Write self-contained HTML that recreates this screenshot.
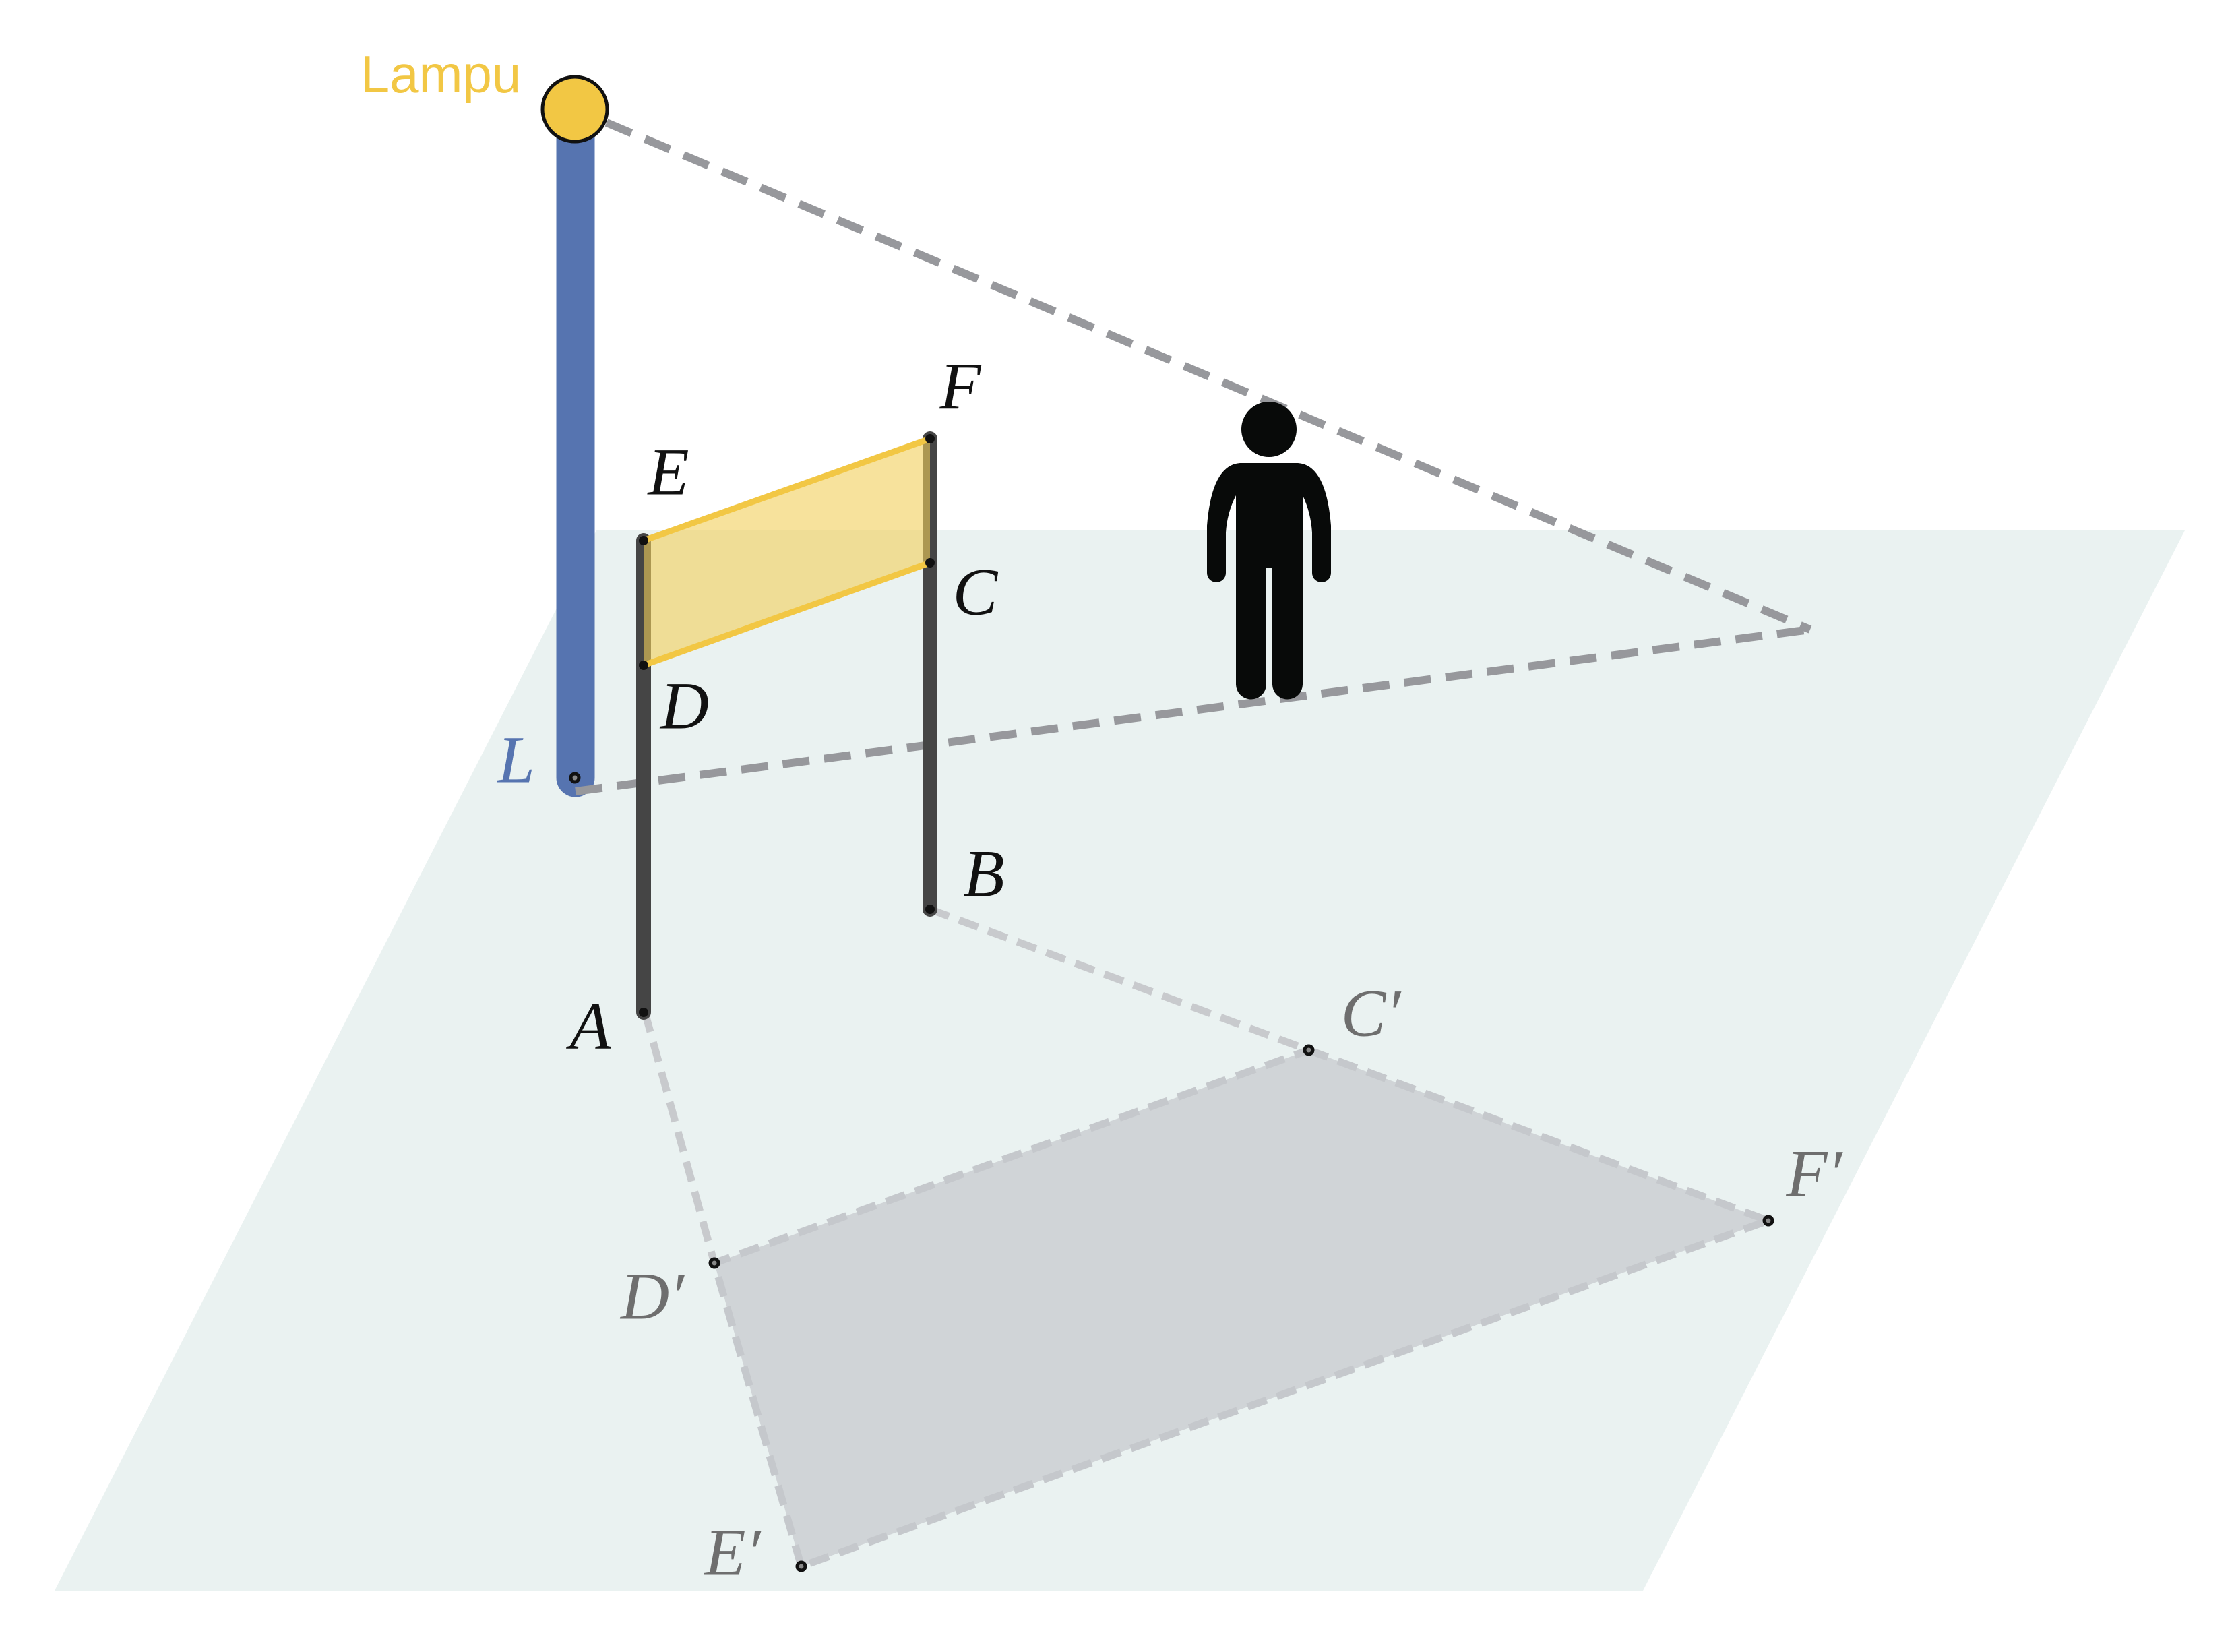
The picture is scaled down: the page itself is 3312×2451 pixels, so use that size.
<!DOCTYPE html>
<html><head><meta charset="utf-8"><style>html,body{margin:0;padding:0;background:#fff}svg{display:block}</style></head>
<body>
<svg width="3312" height="2451" viewBox="0 0 3312 2451" xmlns="http://www.w3.org/2000/svg">
<polygon points="81,2360 2438,2360 3242,787 885,787" fill="#eaf2f1"/>
<!-- shadow -->
<polygon points="1942,1558 2624,1811 1189,2324 1060,1874" fill="#d0d4d7" stroke="#c5c8cc" stroke-width="11" stroke-dasharray="30,16"/>
<line x1="957" y1="1502" x2="1060" y2="1874" stroke="#c8cacd" stroke-width="11" stroke-dasharray="30,16"/>
<line x1="1380" y1="1349" x2="1942" y2="1558" stroke="#c8cacd" stroke-width="11" stroke-dasharray="30,16"/>
<!-- pole -->
<line x1="854" y1="165" x2="854" y2="1154" stroke="#5674b0" stroke-width="57" stroke-linecap="round"/>
<!-- light rays -->
<line x1="900" y1="182" x2="2686" y2="934" stroke="#97989c" stroke-width="12" stroke-dasharray="40,22"/>
<line x1="854" y1="1174" x2="2686" y2="934" stroke="#97989c" stroke-width="12" stroke-dasharray="40,22"/>
<!-- lamp -->
<circle cx="853" cy="162" r="48" fill="#f2c744" stroke="#111" stroke-width="5"/>
<!-- posts -->
<line x1="955" y1="802" x2="955" y2="1502" stroke="#454545" stroke-width="22" stroke-linecap="round"/>
<line x1="1380" y1="651" x2="1380" y2="1349" stroke="#454545" stroke-width="22" stroke-linecap="round"/>
<!-- banner -->
<polygon points="955,802 1380,651 1380,835 955,987" fill="#f2cf5a" fill-opacity="0.6"/>
<line x1="955" y1="802" x2="1380" y2="651" stroke="#f2c744" stroke-width="9"/>
<line x1="955" y1="987" x2="1380" y2="835" stroke="#f2c744" stroke-width="9"/>
<!-- points -->
<g fill="#111">
<circle cx="955" cy="802" r="7"/><circle cx="955" cy="987" r="7"/><circle cx="955" cy="1502" r="7"/>
<circle cx="1380" cy="651" r="7"/><circle cx="1380" cy="835" r="7"/><circle cx="1380" cy="1349" r="7"/>
</g>
<g fill="#888" stroke="#111" stroke-width="5">
<circle cx="853" cy="1154" r="6"/><circle cx="1942" cy="1558" r="6"/><circle cx="2624" cy="1811" r="6"/><circle cx="1189" cy="2324" r="6"/><circle cx="1060" cy="1874" r="6"/>
</g>
<!-- person -->
<g fill="#080a09">
<circle cx="1883" cy="637" r="41"/>
<path d="M1840,687 H1926 Q1968,690 1975,780 V850 a14,14 0 0 1 -28,0 V790 Q1945,760 1933,735 V1015 a22,22 0 0 1 -45,0 V842 H1879 V1015 a22,22 0 0 1 -45,0 V735 Q1821,760 1819,790 V850 a14,14 0 0 1 -28,0 V780 Q1798,690 1840,687 Z"/>
</g>
<!-- labels -->
<text x="654" y="110" font-family="Liberation Sans, sans-serif" font-size="78" fill="#f2c744" text-anchor="middle" dominant-baseline="central">Lampu</text>
<g font-family="Liberation Serif, serif" font-style="italic" font-size="100" fill="#111" text-anchor="middle" dominant-baseline="central">
<text x="992" y="700">E</text>
<text x="1425" y="573">F</text>
<text x="1447" y="878">C</text>
<text x="1016" y="1047">D</text>
<text x="1460" y="1296">B</text>
<text x="876" y="1522">A</text>
<text x="766" y="1127" fill="#5674b0">L</text>
</g>
<g font-family="Liberation Serif, serif" font-style="italic" font-size="100" fill="#6e6e6e" text-anchor="middle" dominant-baseline="central">
<text x="2034" y="1503">C′</text>
<text x="2692" y="1741">F′</text>
<text x="968" y="1923">D′</text>
<text x="1087" y="2303">E′</text>
</g>
</svg>
</body></html>
